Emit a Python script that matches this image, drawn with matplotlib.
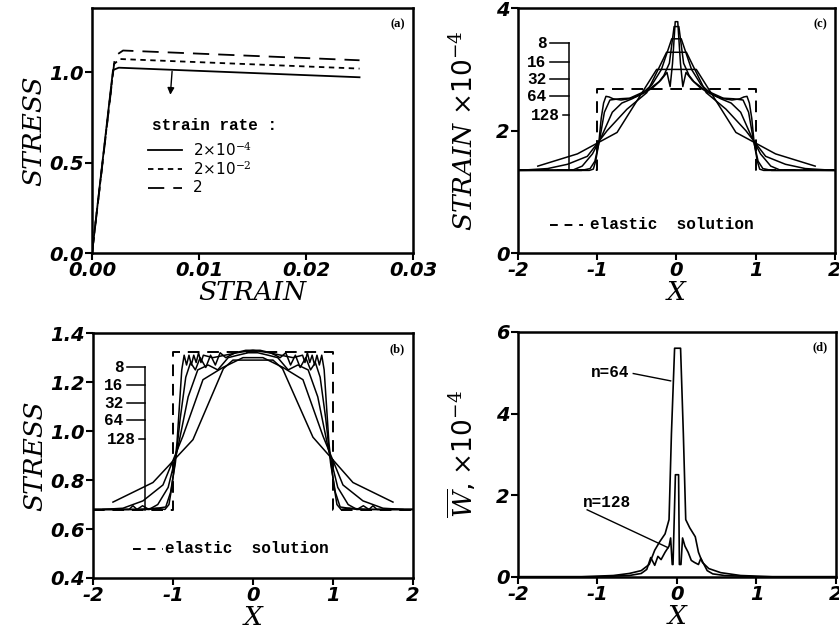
import numpy as np
import matplotlib
matplotlib.use("Agg")
import matplotlib.pyplot as plt

plt.rcParams['mathtext.fontset'] = 'dejavuserif'

# ---- panel (a): stress-strain curves for three strain rates
rate_labels = [r"2$\times$10$^{-4}$", r"2$\times$10$^{-2}$", "2"]
strain_slow = [0.0, 0.00196, 0.0025, 0.025]
stress_slow = [0.0, 1.012, 1.025, 0.972]
strain_mid = [0.0, 0.00205, 0.0026, 0.025]
stress_mid = [0.0, 1.045, 1.073, 1.02]
strain_fast = [0.0, 0.00215, 0.0029, 0.025]
stress_fast = [0.0, 1.09, 1.12, 1.066]

# ---- panel (b): stress profiles, n elements
mesh_labels = ["8", "16", "32", "64", "128"]
xb_8 = [-1.75, -1.25, -0.75, -0.37, -0.25, 0.25, 0.37, 0.75, 1.25, 1.75]
sb_8 = [0.71, 0.79, 0.965, 1.255, 1.29, 1.29, 1.255, 0.975, 0.79, 0.71]
xb_16 = [-1.875, -1.625, -1.375, -1.125, -0.875, -0.625, -0.375, -0.125,
         0.125, 0.375, 0.625, 0.875, 1.125, 1.375, 1.625, 1.875]
sb_16 = [0.68, 0.685, 0.715, 0.78, 0.98, 1.21, 1.26, 1.30,
         1.30, 1.26, 1.21, 0.98, 0.78, 0.715, 0.685, 0.68]
xb_32 = [-2.0, -1.3, -1.19, -1.06, -0.94, -0.81, -0.69, -0.56, -0.44, -0.31, -0.19, -0.06,
         0.06, 0.19, 0.31, 0.44, 0.56, 0.69, 0.81, 0.94, 1.06, 1.19, 1.3, 2.0]
sb_32 = [0.68, 0.68, 0.70, 0.77, 0.93, 1.14, 1.25, 1.27, 1.25, 1.30, 1.31, 1.32,
         1.32, 1.31, 1.30, 1.25, 1.27, 1.25, 1.14, 0.93, 0.77, 0.70, 0.68, 0.68]
xb_64 = [-2.0, -1.45, -1.38, -1.3, -1.09, -1.03, -0.97, -0.91, -0.84, -0.78, -0.72, -0.66,
         -0.59, -0.53, -0.47, -0.41, -0.34, -0.22, -0.09, 0.09, 0.22, 0.34, 0.41, 0.47,
         0.53, 0.59, 0.66, 0.72, 0.78, 0.84, 0.91, 0.97, 1.03, 1.09, 1.3, 1.38, 1.45, 2.0]
sb_64 = [0.68, 0.68, 0.695, 0.68, 0.69, 0.75, 0.87, 1.05, 1.22, 1.28, 1.25, 1.30,
         1.26, 1.31, 1.27, 1.32, 1.30, 1.32, 1.33, 1.33, 1.32, 1.30, 1.32, 1.27,
         1.31, 1.26, 1.30, 1.25, 1.28, 1.22, 1.05, 0.87, 0.75, 0.69, 0.68, 0.695, 0.68, 0.68]
xb_128 = [-2.0, -1.55, -1.5, -1.45, -1.2, -1.1, -1.05, -1.02, -0.98, -0.95, -0.92, -0.89,
          -0.86, -0.83, -0.8, -0.77, -0.74, -0.71, -0.68, -0.65, -0.62, -0.5, -0.35, -0.2,
          0.0, 0.2, 0.35, 0.5, 0.62, 0.65, 0.68, 0.71, 0.74, 0.77, 0.8, 0.83, 0.86,
          0.89, 0.92, 0.95, 0.98, 1.02, 1.05, 1.1, 1.2, 1.45, 1.5, 1.55, 2.0]
sb_128 = [0.68, 0.68, 0.695, 0.68, 0.685, 0.68, 0.70, 0.76, 0.86, 0.95, 1.10, 1.25,
          1.31, 1.27, 1.31, 1.27, 1.31, 1.28, 1.32, 1.28, 1.31, 1.30, 1.31, 1.32,
          1.33, 1.32, 1.31, 1.30, 1.31, 1.28, 1.32, 1.28, 1.31, 1.27, 1.31, 1.27, 1.31,
          1.25, 1.10, 0.95, 0.86, 0.76, 0.70, 0.68, 0.685, 0.68, 0.695, 0.68, 0.68]
xb_elastic = [-2.0, -1.0, -1.0, 1.0, 1.0, 2.0]
sb_elastic = [0.678, 0.678, 1.325, 1.325, 0.678, 0.678]

# ---- panel (c): strain profiles (x 1e-4)
xc_8 = [-1.75, -1.25, -0.75, -0.25, 0.25, 0.75, 1.25, 1.75]
ec_8 = [1.42, 1.62, 1.97, 3.0, 3.0, 1.97, 1.62, 1.42]
xc_16 = [-1.875, -1.625, -1.375, -1.125, -0.875, -0.625, -0.375, -0.125,
         0.125, 0.375, 0.625, 0.875, 1.125, 1.375, 1.625, 1.875]
ec_16 = [1.36, 1.38, 1.45, 1.58, 2.0, 2.35, 2.62, 3.28,
         3.28, 2.62, 2.35, 2.0, 1.58, 1.45, 1.38, 1.36]
xc_32 = [-2.0, -1.3, -1.19, -1.06, -0.94, -0.81, -0.69, -0.56, -0.44, -0.31, -0.19, -0.06,
         0.06, 0.19, 0.31, 0.44, 0.56, 0.69, 0.81, 0.94, 1.06, 1.19, 1.3, 2.0]
ec_32 = [1.35, 1.36, 1.42, 1.62, 1.92, 2.3, 2.45, 2.52, 2.6, 2.75, 3.0, 3.5,
         3.5, 3.0, 2.75, 2.6, 2.52, 2.45, 2.3, 1.92, 1.62, 1.42, 1.36, 1.35]
xc_64 = [-2.0, -1.2, -1.09, -1.03, -0.97, -0.91, -0.84, -0.72, -0.59, -0.47, -0.34, -0.22,
         -0.16, -0.09, -0.03, 0.03, 0.09, 0.16, 0.22, 0.34, 0.47, 0.59, 0.72, 0.84,
         0.91, 0.97, 1.03, 1.09, 1.2, 2.0]
ec_64 = [1.35, 1.35, 1.38, 1.5, 1.85, 2.3, 2.5, 2.52, 2.53, 2.6, 2.68, 2.8,
         2.9, 3.1, 3.7, 3.7, 3.1, 2.9, 2.8, 2.68, 2.6, 2.53, 2.52, 2.5,
         2.3, 1.85, 1.5, 1.38, 1.35, 1.35]
xc_128 = [-2.0, -1.1, -1.05, -1.02, -0.98, -0.95, -0.92, -0.89, -0.85, -0.8, -0.7, -0.6,
          -0.5, -0.4, -0.3, -0.2, -0.12, -0.08, -0.05, -0.016, 0.016, 0.05, 0.08, 0.12,
          0.2, 0.3, 0.4, 0.5, 0.6, 0.7, 0.8, 0.85, 0.89, 0.92, 0.95, 0.98, 1.02, 1.05, 1.1, 2.0]
ec_128 = [1.35, 1.35, 1.37, 1.5, 1.8, 2.2, 2.45, 2.56, 2.55, 2.52, 2.5, 2.52,
          2.56, 2.62, 2.7, 2.82, 2.95, 2.72, 3.1, 3.78, 3.78, 3.1, 2.72, 2.95,
          2.82, 2.7, 2.62, 2.56, 2.52, 2.5, 2.52, 2.55, 2.56, 2.45, 2.2, 1.8, 1.5, 1.37, 1.35, 1.35]
xc_elastic = [-2.0, -1.0, -1.0, 1.0, 1.0, 2.0]
ec_elastic = [1.35, 1.35, 2.68, 2.68, 1.35, 1.35]

# ---- panel (d): W (x 1e-4)
xd_64 = [-2.0, -1.2, -0.8, -0.6, -0.45, -0.35, -0.28, -0.22, -0.15, -0.1, -0.07, -0.03,
         0.045, 0.08, 0.11, 0.16, 0.23, 0.27, 0.32, 0.4, 0.55, 0.8, 1.2, 2.0]
wd_64 = [0.0, 0.0, 0.03, 0.08, 0.15, 0.3, 0.65, 0.85, 1.05, 1.4, 3.5, 5.6,
         5.6, 3.5, 1.4, 1.2, 0.98, 0.6, 0.35, 0.2, 0.1, 0.03, 0.0, 0.0]
xd_128 = [-2.0, -1.0, -0.6, -0.45, -0.38, -0.33, -0.28, -0.24, -0.2, -0.15, -0.1, -0.08,
          -0.06, -0.05, -0.02, 0.02, 0.03, 0.05, 0.07, 0.1, 0.14, 0.18, 0.22, 0.27,
          0.3, 0.34, 0.38, 0.45, 0.6, 1.0, 2.0]
wd_128 = [0.0, 0.0, 0.03, 0.08, 0.18, 0.47, 0.28, 0.5, 0.42, 0.6, 0.75, 0.95,
          0.3, 0.3, 2.5, 2.5, 0.3, 0.3, 0.95, 0.75, 0.6, 0.4, 0.35, 0.3,
          0.45, 0.3, 0.15, 0.07, 0.03, 0.0, 0.0]

tick_font = dict(family="DejaVu Sans", weight="bold", style="oblique", size=14)
label_font = dict(family="DejaVu Serif", style="italic", size=19)
note_font = dict(family="Liberation Mono", weight="bold", size=11.5)
lw = 1.3


def style_axes(ax, xticks, xlabels, yticks, ylabels):
    ax.set_xticks(xticks)
    ax.set_xticklabels(xlabels, fontdict=tick_font)
    ax.set_yticks(yticks)
    ax.set_yticklabels(ylabels, fontdict=tick_font)
    ax.tick_params(direction="out", length=5, width=1.5, pad=1)
    for s in ax.spines.values():
        s.set_linewidth(1.8)


def mesh_bracket(ax, xline, ytop, ybottom, ylevels, xtick0):
    ax.plot([xline, xline], [ytop, ybottom], color="black", lw=1.1)
    for lab, yy in zip(mesh_labels, ylevels):
        x0 = xtick0 if lab != "128" else xline - 0.07
        ax.plot([x0, xline], [yy, yy], color="black", lw=1.1)
        ax.text(x0 - 0.04, yy, lab, ha="right", va="center", **note_font)


fig = plt.figure(figsize=(8.39, 6.31), dpi=100)
ax_a = fig.add_axes([0.1097, 0.599, 0.3826, 0.388])
ax_c = fig.add_axes([0.6174, 0.599, 0.3778, 0.388])
ax_b = fig.add_axes([0.1108, 0.084, 0.3814, 0.388])
ax_d = fig.add_axes([0.6174, 0.086, 0.3790, 0.388])

# (a)
ax_a.plot(strain_slow, stress_slow, color="black", lw=lw)
ax_a.plot(strain_mid, stress_mid, color="black", lw=lw, dashes=(3, 2.5))
ax_a.plot(strain_fast, stress_fast, color="black", lw=lw, dashes=(9, 5))
ax_a.annotate("", xy=(0.0073, 0.86), xytext=(0.0075, 1.02),
              arrowprops=dict(arrowstyle="-|>", color="black", lw=1.0, mutation_scale=10))
ax_a.text(0.0056, 0.707, "strain rate :", ha="left", va="center", **note_font)
leg_y = [0.57, 0.465, 0.36]
leg_dash = [None, (3, 2.5), (9, 5)]
for yy, lab, d in zip(leg_y, rate_labels, leg_dash):
    if d is None:
        ax_a.plot([0.0052, 0.0084], [yy, yy], color="black", lw=lw)
    else:
        ax_a.plot([0.0052, 0.0084], [yy, yy], color="black", lw=lw, dashes=d)
    ax_a.text(0.0094, yy, lab, ha="left", va="center", family="DejaVu Sans", size=11)
ax_a.set_xlim(0, 0.03)
ax_a.set_ylim(0, 1.354)
style_axes(ax_a, [0, 0.01, 0.02, 0.03], ["0.00", "0.01", "0.02", "0.03"],
           [0, 0.5, 1.0], ["0.0", "0.5", "1.0"])
ax_a.set_xlabel("STRAIN", labelpad=0, **label_font)
ax_a.set_ylabel("STRESS", labelpad=2, **label_font)
ax_a.text(0.975, 0.96, "(a)", transform=ax_a.transAxes, ha="right", va="top",
          weight="bold", size=9, family="Liberation Serif")

# (b)
for xs, ys in [(xb_8, sb_8), (xb_16, sb_16), (xb_32, sb_32), (xb_64, sb_64), (xb_128, sb_128)]:
    ax_b.plot(xs, ys, color="black", lw=1.1)
ax_b.plot(xb_elastic, sb_elastic, color="black", lw=1.4, dashes=(6, 4))
mesh_bracket(ax_b, -1.35, 1.26, 0.678, [1.26, 1.188, 1.114, 1.045, 0.967], -1.58)
ax_b.plot([-1.5, -1.13], [0.52, 0.52], color="black", lw=1.4, dashes=(4, 3.5))
ax_b.text(-1.1, 0.52, "elastic  solution", ha="left", va="center", **note_font)
ax_b.set_xlim(-2, 2)
ax_b.set_ylim(0.4, 1.4)
style_axes(ax_b, [-2, -1, 0, 1, 2], ["-2", "-1", "0", "1", "2"],
           [0.4, 0.6, 0.8, 1.0, 1.2, 1.4], ["0.4", "0.6", "0.8", "1.0", "1.2", "1.4"])
ax_b.set_xlabel("X", labelpad=0, **label_font)
ax_b.set_ylabel("STRESS", labelpad=2, **label_font)
ax_b.text(0.975, 0.96, "(b)", transform=ax_b.transAxes, ha="right", va="top",
          weight="bold", size=9, family="Liberation Serif")

# (c)
for xs, ys in [(xc_8, ec_8), (xc_16, ec_16), (xc_32, ec_32), (xc_64, ec_64), (xc_128, ec_128)]:
    ax_c.plot(xs, ys, color="black", lw=1.1)
ax_c.plot(xc_elastic, ec_elastic, color="black", lw=1.4, dashes=(6, 4))
mesh_bracket(ax_c, -1.36, 3.43, 1.35, [3.43, 3.12, 2.84, 2.56, 2.25], -1.6)
ax_c.plot([-1.6, -1.18], [0.46, 0.46], color="black", lw=1.4, dashes=(4, 3.5))
ax_c.text(-1.09, 0.46, "elastic  solution", ha="left", va="center", **note_font)
ax_c.set_xlim(-2, 2)
ax_c.set_ylim(0, 4)
style_axes(ax_c, [-2, -1, 0, 1, 2], ["-2", "-1", "0", "1", "2"],
           [0, 2, 4], ["0", "2", "4"])
ax_c.set_xlabel("X", labelpad=0, **label_font)
ax_c.set_ylabel(r"$\it{STRAIN}$ $\times\mathregular{10}^{-4}$", labelpad=12, size=19)
ax_c.text(0.975, 0.96, "(c)", transform=ax_c.transAxes, ha="right", va="top",
          weight="bold", size=9, family="Liberation Serif")

# (d)
ax_d.plot(xd_64, wd_64, color="black", lw=1.2)
ax_d.plot(xd_128, wd_128, color="black", lw=1.2)
ax_d.plot([-0.55, -0.08], [4.98, 4.8], color="black", lw=1.0)
ax_d.text(-0.6, 5.0, "n=64", ha="right", va="center", **note_font)
ax_d.plot([-1.13, -0.11], [1.64, 0.71], color="black", lw=1.0)
ax_d.text(-1.18, 1.81, "n=128", ha="left", va="center", **note_font)
ax_d.set_xlim(-2, 2)
ax_d.set_ylim(0, 6)
style_axes(ax_d, [-2, -1, 0, 1, 2], ["-2", "-1", "0", "1", "2"],
           [0, 2, 4, 6], ["0", "2", "4", "6"])
ax_d.set_xlabel("X", labelpad=0, **label_font)
ax_d.set_ylabel(r"$\overline{W}$, $\times\mathregular{10}^{-4}$", labelpad=12, size=19)
ax_d.text(0.975, 0.96, "(d)", transform=ax_d.transAxes, ha="right", va="top",
          weight="bold", size=9, family="Liberation Serif")

fig.savefig("out.png", dpi=100)
